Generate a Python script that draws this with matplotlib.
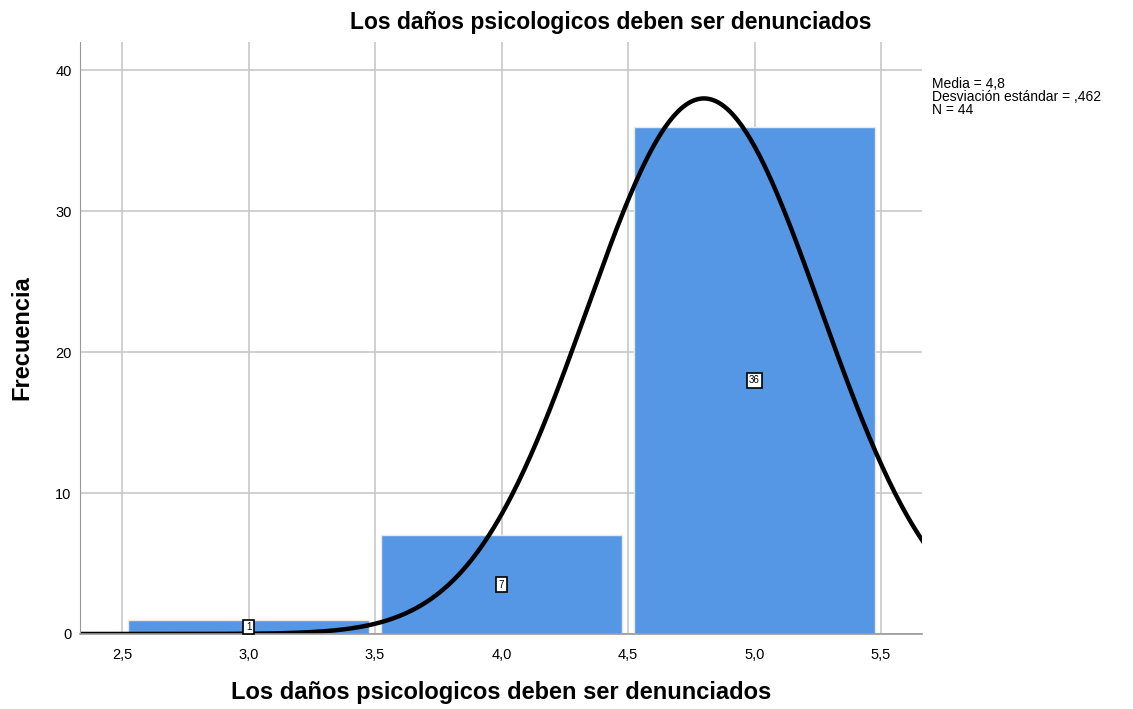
import numpy as np
import matplotlib.pyplot as plt

# datos del histograma
categorias = [3.0, 4.0, 5.0]
frecuencias = [1, 7, 36]
media = 4.8
desv = 0.462
n = 44
xticks = [2.5, 3.0, 3.5, 4.0, 4.5, 5.0, 5.5]
xtick_labels = ["2,5", "3,0", "3,5", "4,0", "4,5", "5,0", "5,5"]
yticks = [0, 10, 20, 30, 40]

titulo = "Los daños psicologicos deben ser denunciados"

plt.rcParams['font.family'] = ['Liberation Sans', 'DejaVu Sans']

fig = plt.figure(figsize=(11.33, 7.09), dpi=100)
ax = fig.add_axes([0.0706, 0.1058, 0.7432, 0.835])

ax.set_axisbelow(True)
ax.grid(True, color="#c8c8c8", linewidth=1.2)

ax.bar(categorias, frecuencias, width=0.95, color="#5596e5",
       edgecolor="#e8e8e8", linewidth=1)

# curva normal
xs = np.linspace(2.3, 5.7, 400)
ys = n * 1.0 / (desv * np.sqrt(2 * np.pi)) * np.exp(-0.5 * ((xs - media) / desv) ** 2)
ax.plot(xs, ys, color="black", linewidth=3.2, clip_on=True)

for c, f in zip(categorias, frecuencias):
    ax.text(c, f / 2, str(f), ha="center", va="center", fontsize=7,
            bbox=dict(boxstyle="square,pad=0.25", facecolor="white",
                      edgecolor="black", linewidth=1.2))

ax.set_xlim(2.334, 5.662)
ax.set_ylim(0, 42)
ax.set_xticks(xticks)
ax.set_xticklabels(xtick_labels, fontsize=10.5)
ax.set_yticks(yticks)
ax.tick_params(axis="y", labelsize=10.5, length=0, pad=6)
ax.tick_params(axis="x", length=0, pad=10)

for s in ["top", "right"]:
    ax.spines[s].set_visible(False)
ax.spines["left"].set_color("#999999")
ax.spines["bottom"].set_color("#999999")
ax.spines["bottom"].set_linewidth(1.2)

fig.text(611 / 1133, 1 - 22 / 709, titulo, fontsize=16.5, fontweight="bold",
         ha="center", va="center")
ax.set_xlabel(titulo, fontsize=17, fontweight="bold", labelpad=14)
ax.set_ylabel("Frecuencia", fontsize=17, fontweight="bold", labelpad=16)

fig.text(0.823, 0.892, "Media = 4,8\nDesviación estándar = ,462\nN = 44",
         fontsize=10, va="top", ha="left", linespacing=0.95)

fig.savefig("out.png", dpi=100)
